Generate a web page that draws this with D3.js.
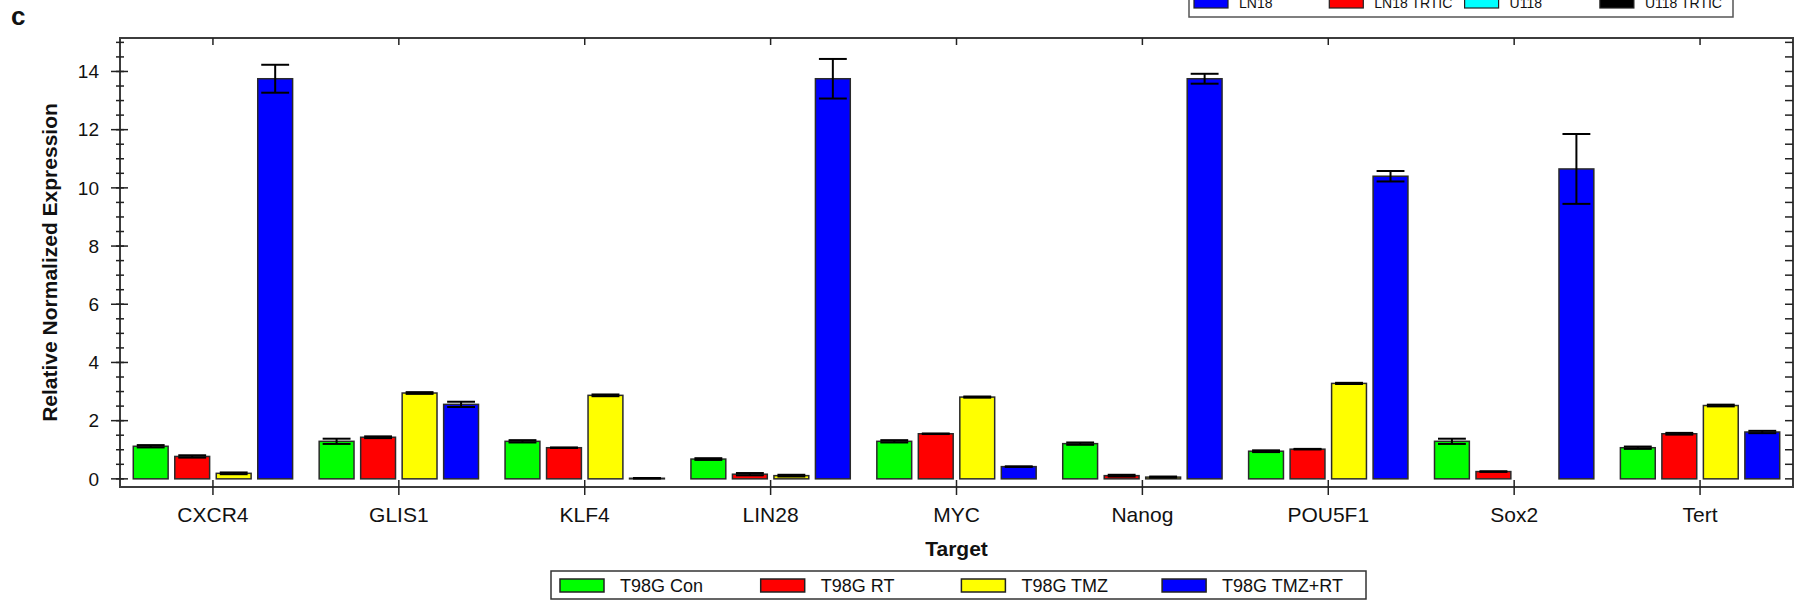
<!DOCTYPE html>
<head>
  <meta charset="utf-8">
  <script src="https://d3js.org/d3.v7.min.js"></script>
  <style>
    body {
      margin:0;
      background-color: #fff;
    }
    text {
      font-family: "Liberation Sans", Arial, sans-serif;
      fill: #111;
    }
    .frame {
      stroke: #3c3c3c;
      stroke-width: 2px;
      fill: none;
    }
    .tick-line {
      stroke: #222;
      stroke-width: 1.5px;
    }
    .bar {
      stroke: #2a2a2a;
      stroke-width: 1.5px;
    }
    .err {
      stroke: #000;
      stroke-width: 2px;
    }
  </style>
</head>

<body>
  <script>
    // Data
    var targets = ["CXCR4", "GLIS1", "KLF4", "LIN28", "MYC", "Nanog", "POU5F1", "Sox2", "Tert"];
    var seriesNames = ["T98G Con", "T98G RT", "T98G TMZ", "T98G TMZ+RT"];
    var seriesColors = ["#00ff00", "#ff0000", "#ffff00", "#0000ff"];

    var conValues   = [1.12, 1.29, 1.29, 0.68, 1.29, 1.21, 0.95, 1.29, 1.07];
    var conErr      = [0.04, 0.09, 0.04, 0.03, 0.04, 0.04, 0.03, 0.09, 0.04];
    var rtValues    = [0.77, 1.43, 1.07, 0.16, 1.55, 0.11, 1.02, 0.25, 1.55];
    var rtErr       = [0.04, 0.03, 0.01, 0.04, 0.01, 0.03, 0.01, 0.01, 0.03];
    var tmzValues   = [0.19, 2.95, 2.87, 0.11, 2.81, 0.06, 3.28, 0, 2.52];
    var tmzErr      = [0.03, 0.03, 0.03, 0.03, 0.02, 0.02, 0.02, 0, 0.03];
    var tmzrtValues = [13.75, 2.56, 0.02, 13.75, 0.42, 13.75, 10.40, 10.65, 1.61];
    var tmzrtErr    = [0.48, 0.09, 0.01, 0.68, 0.01, 0.17, 0.18, 1.2, 0.04];

    var yMajorTicks = [0, 2, 4, 6, 8, 10, 12, 14];

    // the cut-off legend at the top of the figure
    var topLegendNames = ["LN18", "LN18 TRTIC", "U118", "U118 TRTIC"];
    var topLegendColors = ["#0000ff", "#ff0000", "#00ffff", "#000000"];

    var values = [conValues, rtValues, tmzValues, tmzrtValues];
    var errors = [conErr, rtErr, tmzErr, tmzrtErr];

    // Layout
    var width = 1807,
        height = 605;
    var plot = { left: 120, right: 1793, top: 38, bottom: 487 };

    var svg = d3.select("body").append("svg")
      .attr("width", width)
      .attr("height", height);

    // Scales
    var x = d3.scaleBand()
      .domain(targets)
      .range([plot.left, plot.right]);

    var xInner = d3.scaleBand()
      .domain(d3.range(seriesNames.length))
      .range([0, x.bandwidth()])
      .paddingInner(0.16)
      .paddingOuter(0.32);

    var y = d3.scaleLinear()
      .domain([-0.28, 15.15])
      .range([plot.bottom, plot.top]);

    // flat list of bars
    var bars = [];
    targets.forEach(function(t, i) {
      seriesNames.forEach(function(s, j) {
        bars.push({ target: t, s: j, value: values[j][i], err: errors[j][i] });
      });
    });

    // Bars
    var g = svg.append("g");
    g.selectAll("rect.bar")
      .data(bars.filter(function(d) { return d.value > 0; }))
      .enter().append("rect")
        .attr("class", "bar")
        .attr("x", function(d) { return x(d.target) + xInner(d.s); })
        .attr("width", xInner.bandwidth())
        .attr("y", function(d) { return y(d.value); })
        .attr("height", function(d) { return y(0) - y(d.value); })
        .style("fill", function(d) { return seriesColors[d.s]; });

    // Error bars
    var capW = xInner.bandwidth() * 0.8;
    var errBars = g.selectAll("g.errbar")
      .data(bars.filter(function(d) { return d.err > 0; }))
      .enter().append("g")
        .attr("class", "errbar")
        .attr("transform", function(d) {
          return "translate(" + (x(d.target) + xInner(d.s) + xInner.bandwidth() / 2) + ",0)";
        });
    errBars.append("line").attr("class", "err")
      .attr("y1", function(d) { return y(d.value - d.err); })
      .attr("y2", function(d) { return y(d.value + d.err); });
    errBars.append("line").attr("class", "err")
      .attr("x1", -capW / 2).attr("x2", capW / 2)
      .attr("y1", function(d) { return y(d.value + d.err); })
      .attr("y2", function(d) { return y(d.value + d.err); });
    errBars.append("line").attr("class", "err")
      .attr("x1", -capW / 2).attr("x2", capW / 2)
      .attr("y1", function(d) { return y(d.value - d.err); })
      .attr("y2", function(d) { return y(d.value - d.err); });

    // Frame
    svg.append("rect")
      .attr("class", "frame")
      .attr("x", plot.left).attr("y", plot.top)
      .attr("width", plot.right - plot.left)
      .attr("height", plot.bottom - plot.top);

    // Y ticks: major crossing left axis, minor every 0.5 on both sides
    var minorTicks = d3.range(0, 15.01, 0.5);
    svg.selectAll("line.ymin")
      .data(minorTicks)
      .enter().append("line")
        .attr("class", "tick-line")
        .attr("x1", plot.left - 4).attr("x2", plot.left + 4)
        .attr("y1", function(d) { return y(d); })
        .attr("y2", function(d) { return y(d); });
    svg.selectAll("line.ymaj")
      .data(yMajorTicks)
      .enter().append("line")
        .attr("class", "tick-line")
        .attr("x1", plot.left - 9).attr("x2", plot.left + 8)
        .attr("y1", function(d) { return y(d); })
        .attr("y2", function(d) { return y(d); });
    svg.selectAll("line.yright")
      .data(minorTicks)
      .enter().append("line")
        .attr("class", "tick-line")
        .attr("x1", plot.right - 8).attr("x2", plot.right)
        .attr("y1", function(d) { return y(d); })
        .attr("y2", function(d) { return y(d); });
    svg.selectAll("text.ylab")
      .data(yMajorTicks)
      .enter().append("text")
        .attr("x", plot.left - 21)
        .attr("y", function(d) { return y(d); })
        .attr("dy", "0.35em")
        .attr("text-anchor", "end")
        .style("font-size", "19px")
        .text(function(d) { return d; });

    // X ticks
    svg.selectAll("line.xbot")
      .data(targets)
      .enter().append("line")
        .attr("class", "tick-line")
        .attr("x1", function(d) { return x(d) + x.bandwidth() / 2; })
        .attr("x2", function(d) { return x(d) + x.bandwidth() / 2; })
        .attr("y1", plot.bottom - 7).attr("y2", plot.bottom + 8);
    svg.selectAll("line.xtop")
      .data(targets)
      .enter().append("line")
        .attr("class", "tick-line")
        .attr("x1", function(d) { return x(d) + x.bandwidth() / 2; })
        .attr("x2", function(d) { return x(d) + x.bandwidth() / 2; })
        .attr("y1", plot.top).attr("y2", plot.top + 7);
    svg.selectAll("text.xlab")
      .data(targets)
      .enter().append("text")
        .attr("x", function(d) { return x(d) + x.bandwidth() / 2; })
        .attr("y", plot.bottom + 35)
        .attr("text-anchor", "middle")
        .style("font-size", "21px")
        .text(function(d) { return d; });

    // Axis titles
    svg.append("text")
      .attr("x", (plot.left + plot.right) / 2)
      .attr("y", 556)
      .attr("text-anchor", "middle")
      .style("font-size", "21px")
      .style("font-weight", "bold")
      .text("Target");

    svg.append("text")
      .attr("transform", "translate(57," + ((plot.top + plot.bottom) / 2) + ") rotate(-90)")
      .attr("text-anchor", "middle")
      .style("font-size", "21px")
      .style("font-weight", "bold")
      .text("Relative Normalized Expression");

    svg.append("text")
      .attr("x", 11).attr("y", 25)
      .style("font-size", "26px")
      .style("font-weight", "bold")
      .text("c");

    // Bottom legend
    var legend = svg.append("g").attr("transform", "translate(551,571)");
    legend.append("rect")
      .attr("width", 815).attr("height", 28)
      .style("fill", "#fff")
      .style("stroke", "#333").style("stroke-width", 1.5);
    var legItems = legend.selectAll("g.item")
      .data(seriesNames)
      .enter().append("g")
        .attr("transform", function(d, i) { return "translate(" + (9 + i * 200.7) + ",0)"; });
    legItems.append("rect")
      .attr("y", 8).attr("width", 44).attr("height", 13)
      .style("fill", function(d, i) { return seriesColors[i]; })
      .style("stroke", "#222").style("stroke-width", 1.5);
    legItems.append("text")
      .attr("x", 60).attr("y", 20.5)
      .style("font-size", "18px")
      .text(function(d) { return d; });

    // Top legend, cut by the page edge as in the source figure
    var topLeg = svg.append("g").attr("transform", "translate(1189,-14)");
    topLeg.append("rect")
      .attr("width", 544).attr("height", 31)
      .style("fill", "#fff")
      .style("stroke", "#555").style("stroke-width", 1.5);
    var topItems = topLeg.selectAll("g.item")
      .data(topLegendNames)
      .enter().append("g")
        .attr("transform", function(d, i) { return "translate(" + (5 + i * 135.3) + ",0)"; });
    topItems.append("rect")
      .attr("y", 10).attr("width", 34).attr("height", 12)
      .style("fill", function(d, i) { return topLegendColors[i]; })
      .style("stroke", "#222").style("stroke-width", 1.2);
    topItems.append("text")
      .attr("x", 45).attr("y", 22)
      .style("font-size", "14px")
      .text(function(d) { return d; });
  </script>
</body>
